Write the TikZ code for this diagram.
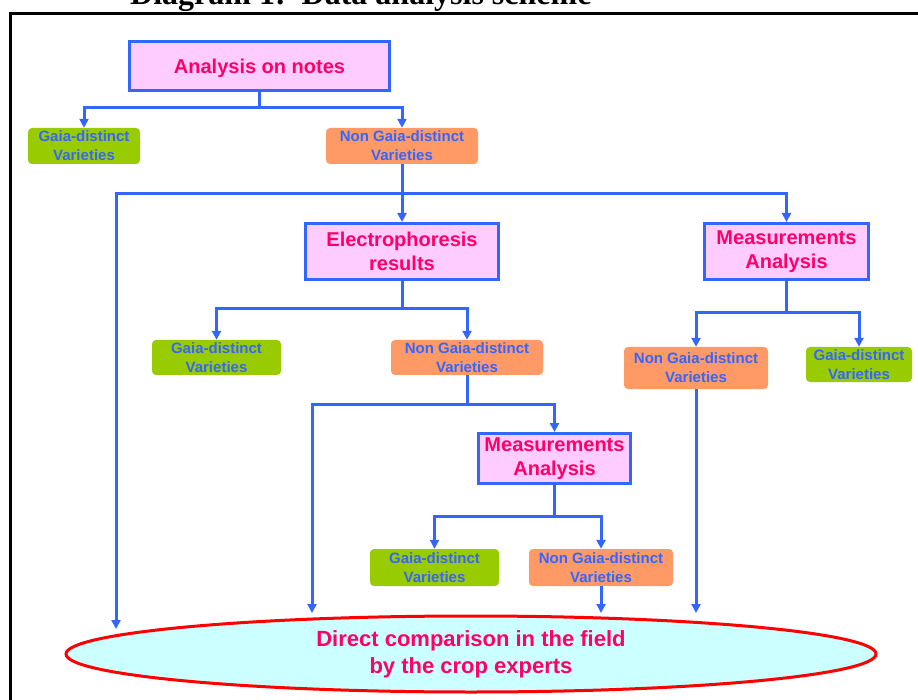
\documentclass[tikz,border=0pt]{standalone}
\usepackage{fontspec}
\setmainfont{Liberation Sans}
\newfontfamily\serifttl{Liberation Serif}
\usetikzlibrary{arrows.meta,shapes.geometric}
\definecolor{cblue}{HTML}{3366FF}
\definecolor{cpink}{HTML}{FFCCFF}
\definecolor{cmag}{HTML}{FF0066}
\definecolor{cgreen}{HTML}{99CC00}
\definecolor{corange}{HTML}{FF9966}
\definecolor{ccyan}{HTML}{CCFFFF}
\definecolor{cred}{HTML}{FF0000}
\tikzset{
  pinkbox/.style={draw=cblue, line width=3pt, fill=cpink, text=cmag, align=center,
    font=\bfseries\fontsize{20}{24}\selectfont, inner sep=0pt,
    execute at begin node={\rule{0pt}{19.5pt}}},
  smallbox/.style={rounded corners=4pt, text=cblue, align=center,
    font=\bfseries\fontsize{15}{19}\selectfont, inner sep=0pt,
    execute at begin node={\rule{0pt}{14.5pt}}},
  greenbox/.style={smallbox, fill=cgreen},
  orangebox/.style={smallbox, fill=corange},
  conn/.style={draw=cblue, line width=3pt},
  arr/.style={conn, -{Triangle[length=9pt,width=9pt]}},
}
\begin{document}
\begin{tikzpicture}[x=1pt,y=-1pt]
\useasboundingbox (0,0) rectangle (918,700);
\fill[white] (0,0) rectangle (918,700);
\node[anchor=base west, inner sep=0pt, font=\serifttl\bfseries\fontsize{32}{36}\selectfont] (title) at (130,5) {Diagram 1:\ \ Data analysis scheme};
\draw[line width=3pt] (10,720) -- (10,14) -- (930,14);

\node[pinkbox, minimum width=260pt, minimum height=49pt] (A) at (259.5,66) {Analysis on notes};
\node[greenbox, minimum width=112pt, minimum height=36pt] (G1) at (84,146) {Gaia-distinct\\Varieties};
\node[orangebox, minimum width=152pt, minimum height=36pt] (O1) at (402,146) {Non Gaia-distinct\\Varieties};
\node[pinkbox, minimum width=193pt, minimum height=56pt] (E) at (402,251.5) {Electrophoresis\\results};
\node[pinkbox, minimum width=164pt, minimum height=56pt] (M1) at (786.5,251.5) {Measurements\\Analysis};
\node[greenbox, minimum width=129pt, minimum height=35pt] (G2) at (216.5,357.5) {Gaia-distinct\\Varieties};
\node[orangebox, minimum width=152pt, minimum height=35pt] (O2) at (467,357.5) {Non Gaia-distinct\\Varieties};
\node[orangebox, minimum width=144pt, minimum height=42pt] (O3) at (696,368) {Non Gaia-distinct\\Varieties};
\node[greenbox, minimum width=106pt, minimum height=35pt] (G3) at (859,364.5) {Gaia-distinct\\Varieties};
\node[pinkbox, minimum width=152pt, minimum height=50pt] (M2) at (554.5,458.5) {Measurements\\Analysis};
\node[greenbox, minimum width=129pt, minimum height=37pt] (G4) at (434.5,567.5) {Gaia-distinct\\Varieties};
\node[orangebox, minimum width=144pt, minimum height=37pt] (O4) at (601,567.5) {Non Gaia-distinct\\Varieties};
\node[ellipse, draw=cred, line width=3pt, fill=ccyan, text=cmag, align=center,
  font=\bfseries\fontsize{22}{27}\selectfont, inner sep=0pt,
  execute at begin node={\rule{0pt}{21pt}},
  minimum width=810pt, minimum height=76pt] (F) at (471,654) {Direct comparison in the field\\by the crop experts};

\coordinate (c1) at (116,629);
\coordinate (c2) at (696,613);
\coordinate (c3) at (312,613);
\coordinate (c4) at (601,613);

\draw[arr] (A.south) -- ++(0,16) -| (G1.north);
\draw[arr] (A.south) -- ++(0,16) -| (O1.north);
\draw[arr] (O1.south) -- (E.north);
\draw[arr] (O1.south) -- ++(0,29) -| (M1.north);
\draw[arr] (O1.south) -- ++(0,29) -| (c1);
\draw[arr] (E.south) -- ++(0,28) -| (G2.north);
\draw[arr] (E.south) -- ++(0,28) -| (O2.north);
\draw[arr] (M1.south) -- ++(0,32) -| (O3.north);
\draw[arr] (M1.south) -- ++(0,32) -| (G3.north);
\draw[arr] (O3.south) -- (c2);
\draw[arr] (O2.south) -- ++(0,29) -| (M2.north);
\draw[arr] (O2.south) -- ++(0,29) -| (c3);
\draw[arr] (M2.south) -- ++(0,31) -| (G4.north);
\draw[arr] (M2.south) -- ++(0,31) -| (O4.north);
\draw[arr] (O4.south) -- (c4);
\end{tikzpicture}
\end{document}
